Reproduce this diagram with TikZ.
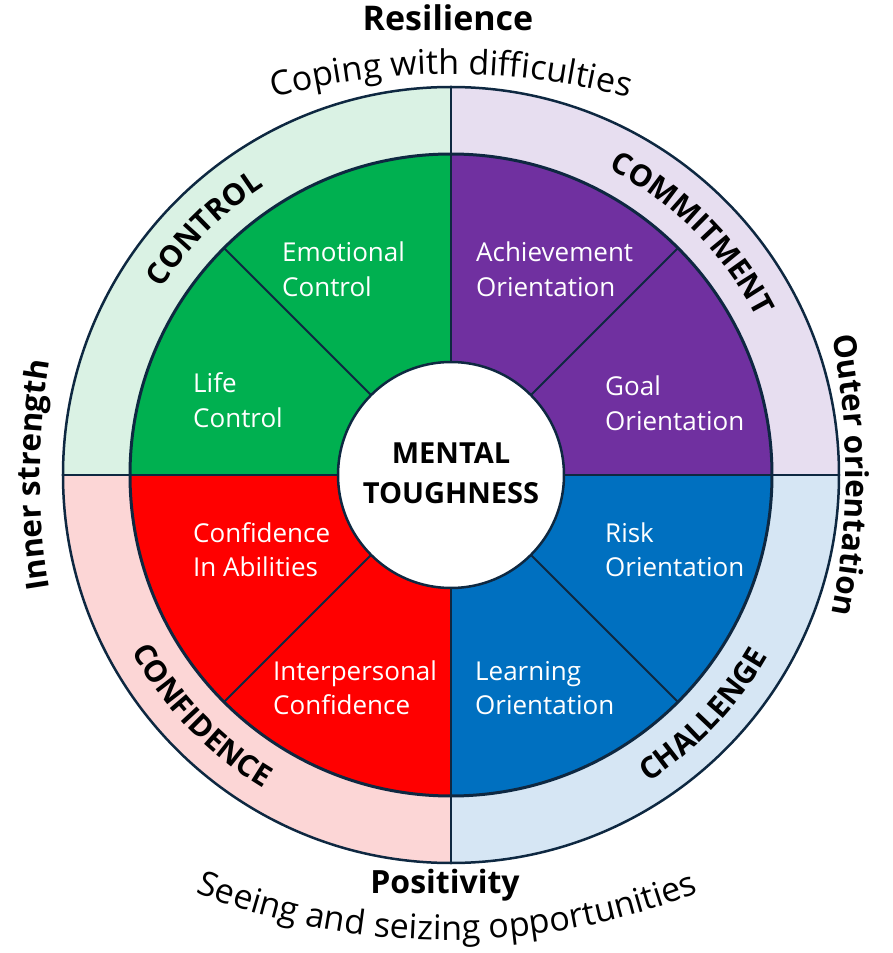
\documentclass[tikz,border=0pt]{standalone}
\usepackage{fontspec}
\setmainfont{Open Sans}
\usetikzlibrary{decorations.text}
\definecolor{navy}{HTML}{0E2841}
\definecolor{cG}{HTML}{00B050}
\definecolor{cP}{HTML}{7030A0}
\definecolor{cR}{HTML}{FF0000}
\definecolor{cB}{HTML}{0070C0}
\definecolor{rG}{RGB}{218,242,228}
\definecolor{rP}{RGB}{231,222,240}
\definecolor{rR}{RGB}{252,214,214}
\definecolor{rB}{RGB}{214,230,244}
\tikzset{
  lab/.style={text=white, font=\fontsize{26}{34.5}\selectfont, align=left, anchor=base west, inner sep=0pt},
  divider/.style={draw=navy, line width=2},
  ringtxt/.style={decorate, decoration={text along path, text align=center, text={|\fontsize{30}{30}\selectfont\bfseries|#1}}},
  outtxt/.style={decorate, decoration={text along path, text align=center, text={|\fontsize{31.5}{31.5}\selectfont\bfseries|#1}}},
  arctxt/.style={decorate, decoration={text along path, text align=center, text={|\fontsize{34}{34}\selectfont|#1}}}
}
\begin{document}
\begin{tikzpicture}[x=1pt,y=1pt]
\useasboundingbox (-451,-478) rectangle (442,475);
% outer ring quadrants
\fill[rG] (0,0) -- (90:388) arc[start angle=90,end angle=180,radius=388] -- cycle;
\fill[rP] (0,0) -- (0:388) arc[start angle=0,end angle=90,radius=388] -- cycle;
\fill[rR] (0,0) -- (180:388) arc[start angle=180,end angle=270,radius=388] -- cycle;
\fill[rB] (0,0) -- (270:388) arc[start angle=270,end angle=360,radius=388] -- cycle;
% inner pie quadrants
\fill[cG] (0,0) -- (90:321) arc[start angle=90,end angle=180,radius=321] -- cycle;
\fill[cP] (0,0) -- (0:321) arc[start angle=0,end angle=90,radius=321] -- cycle;
\fill[cR] (0,0) -- (180:321) arc[start angle=180,end angle=270,radius=321] -- cycle;
\fill[cB] (0,0) -- (270:321) arc[start angle=270,end angle=360,radius=321] -- cycle;
% dividers
\draw[divider] (-388,0) -- (388,0);
\draw[divider] (0,-388) -- (0,388);
\foreach \a in {45,135,225,315} \draw[divider] (\a:113) -- (\a:321);
% circles
\draw[navy, line width=2.5] (0,0) circle[radius=388];
\draw[navy, line width=3] (0,0) circle[radius=321];
\node[circle, fill=white, draw=navy, line width=2.5, minimum size=226, inner sep=0pt] (core) at (0,0) {};
\node[font=\fontsize{29}{41}\selectfont\bfseries, align=center, anchor=base, inner sep=0pt] (mt) at (0,-29) {MENTAL\\TOUGHNESS};
% sector labels (anchor = baseline of second line)
\node[lab] (emo) at (-169,178.5) {Emotional\\Control};
\node[lab] (life) at (-258,47.5) {Life\\Control};
\node[lab] (ach) at (25,178.5) {Achievement\\Orientation};
\node[lab] (goal) at (154,44.5) {Goal\\Orientation};
\node[lab] (cia) at (-258,-101.5) {Confidence\\In Abilities};
\node[lab] (ipc) at (-178,-239.5) {Interpersonal\\Confidence};
\node[lab] (risk) at (154,-101.5) {Risk\\Orientation};
\node[lab] (learn) at (24,-239.5) {Learning\\Orientation};
% ring labels
\path[ringtxt=CONTROL] (180:344) arc[start angle=180,end angle=90,radius=344];
\path[ringtxt=COMMITMENT] (90:344) arc[start angle=90,end angle=0,radius=344];
\path[ringtxt=CONFIDENCE] (180:365) arc[start angle=180,end angle=268,radius=365];
\path[ringtxt=CHALLENGE] (273:365) arc[start angle=273,end angle=360,radius=365];
% outer texts
\node[font=\fontsize{34}{34}\selectfont\bfseries, anchor=base, inner sep=0pt] (res) at (-3,444) {Resilience};
\path[arctxt={Coping with difficulties}] (0,-279) ++(120:680) arc[start angle=120,end angle=60,radius=680];
\node[font=\fontsize{32}{32}\selectfont\bfseries, anchor=base, inner sep=0pt] (pos) at (-6,-418) {Positivity};
\path[arctxt={Seeing and seizing opportunities}] (-4,225) ++(240:690) arc[start angle=240,end angle=300,radius=690];
\path[outtxt={Inner strength}] (289,0) ++(205:700) arc[start angle=205,end angle=155,radius=700];
\path[outtxt={Outer orientation}] (-305,0) ++(25:700) arc[start angle=25,end angle=-25,radius=700];
\end{tikzpicture}
\end{document}
